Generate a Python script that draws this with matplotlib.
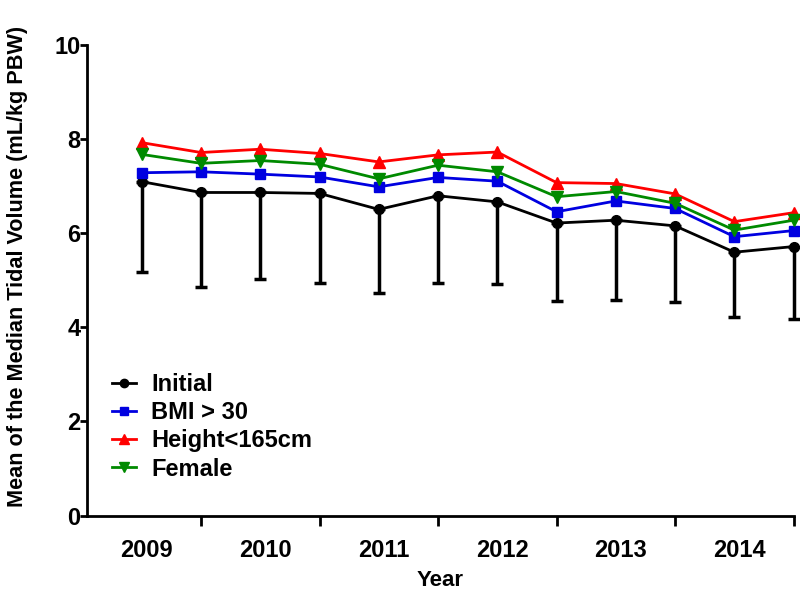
import numpy as np
import matplotlib
matplotlib.use("Agg")
import matplotlib.pyplot as plt
from matplotlib.lines import Line2D

plt.rcParams['font.family'] = ['Liberation Sans', 'DejaVu Sans']
plt.rcParams['font.weight'] = 'bold'

# half-year points, 2009 .. 2014
years = ['2009', '2010', '2011', '2012', '2013', '2014']
initial = [7.10, 6.87, 6.87, 6.85, 6.51, 6.80, 6.67, 6.22, 6.28, 6.16, 5.60, 5.72]
initial_sd = [1.92, 2.01, 1.85, 1.90, 1.78, 1.86, 1.74, 1.66, 1.70, 1.62, 1.37, 1.53]
bmi30 = [7.29, 7.31, 7.26, 7.20, 6.99, 7.19, 7.11, 6.46, 6.69, 6.53, 5.93, 6.06]
height165 = [7.93, 7.72, 7.79, 7.70, 7.52, 7.67, 7.73, 7.08, 7.06, 6.84, 6.25, 6.44]
female = [7.68, 7.49, 7.55, 7.47, 7.16, 7.45, 7.31, 6.78, 6.89, 6.64, 6.07, 6.28]

series = [
    ('Initial', initial, 'black', 'o', 7),
    ('BMI > 30', bmi30, '#0000e0', 's', 7),
    ('Height<165cm', height165, '#ff0000', '^', 8),
    ('Female', female, '#008a00', 'v', 8),
]

x = np.arange(len(initial))

fig = plt.figure(figsize=(8, 5.96), dpi=100)
ax = fig.add_axes([0.109, 0.135, 0.883, 0.789])

# lower SD bars only
ax.errorbar(x, initial, yerr=[initial_sd, np.zeros(len(x))], fmt='none',
            ecolor='black', elinewidth=2.5, capsize=4, capthick=2.5,
            clip_on=False, zorder=2)

handles = []
for name, vals, col, mk, ms in series:
    ax.plot(x, vals, color=col, marker=mk, markersize=ms, linewidth=2,
            clip_on=False, zorder=3)
    handles.append(Line2D([], [], color=col, marker=mk, markersize=ms - 1,
                          linewidth=2, label=name))

ax.set_xlim(-0.92, 11)
ax.set_ylim(0, 10)
ax.set_yticks([0, 2, 4, 6, 8, 10])

# ticks between years, labels under the first half of each year
ax.set_xticks(np.arange(1, 12, 2))
ax.set_xticklabels([])
ax.set_xticks(np.arange(0, 12, 2) + 0.08, minor=True)
ax.set_xticklabels(years, minor=True)
ax.tick_params(axis='x', which='minor', length=0, pad=17, labelsize=17)
ax.tick_params(axis='x', which='major', length=7, width=2, direction='out')
ax.tick_params(axis='y', length=5, width=2, direction='out', labelsize=17, pad=0)

for s in ['top', 'right']:
    ax.spines[s].set_visible(False)
for s in ['left', 'bottom']:
    ax.spines[s].set_linewidth(2)

ax.set_xlabel('Year', fontsize=16, fontweight='bold', labelpad=6)
fig.text(18 / 800, 1 - 266 / 596, 'Mean of the Median Tidal Volume (mL/kg PBW)',
         fontsize=15.6, fontweight='bold', rotation=90, ha='center', va='center')

ax.legend(handles=handles, loc='upper left', bbox_to_anchor=(0.035, 0.303),
          frameon=False, fontsize=17, handlelength=1.0, handletextpad=0.65,
          labelspacing=0.22, borderaxespad=0, borderpad=0)

fig.savefig('out.png', dpi=100)
